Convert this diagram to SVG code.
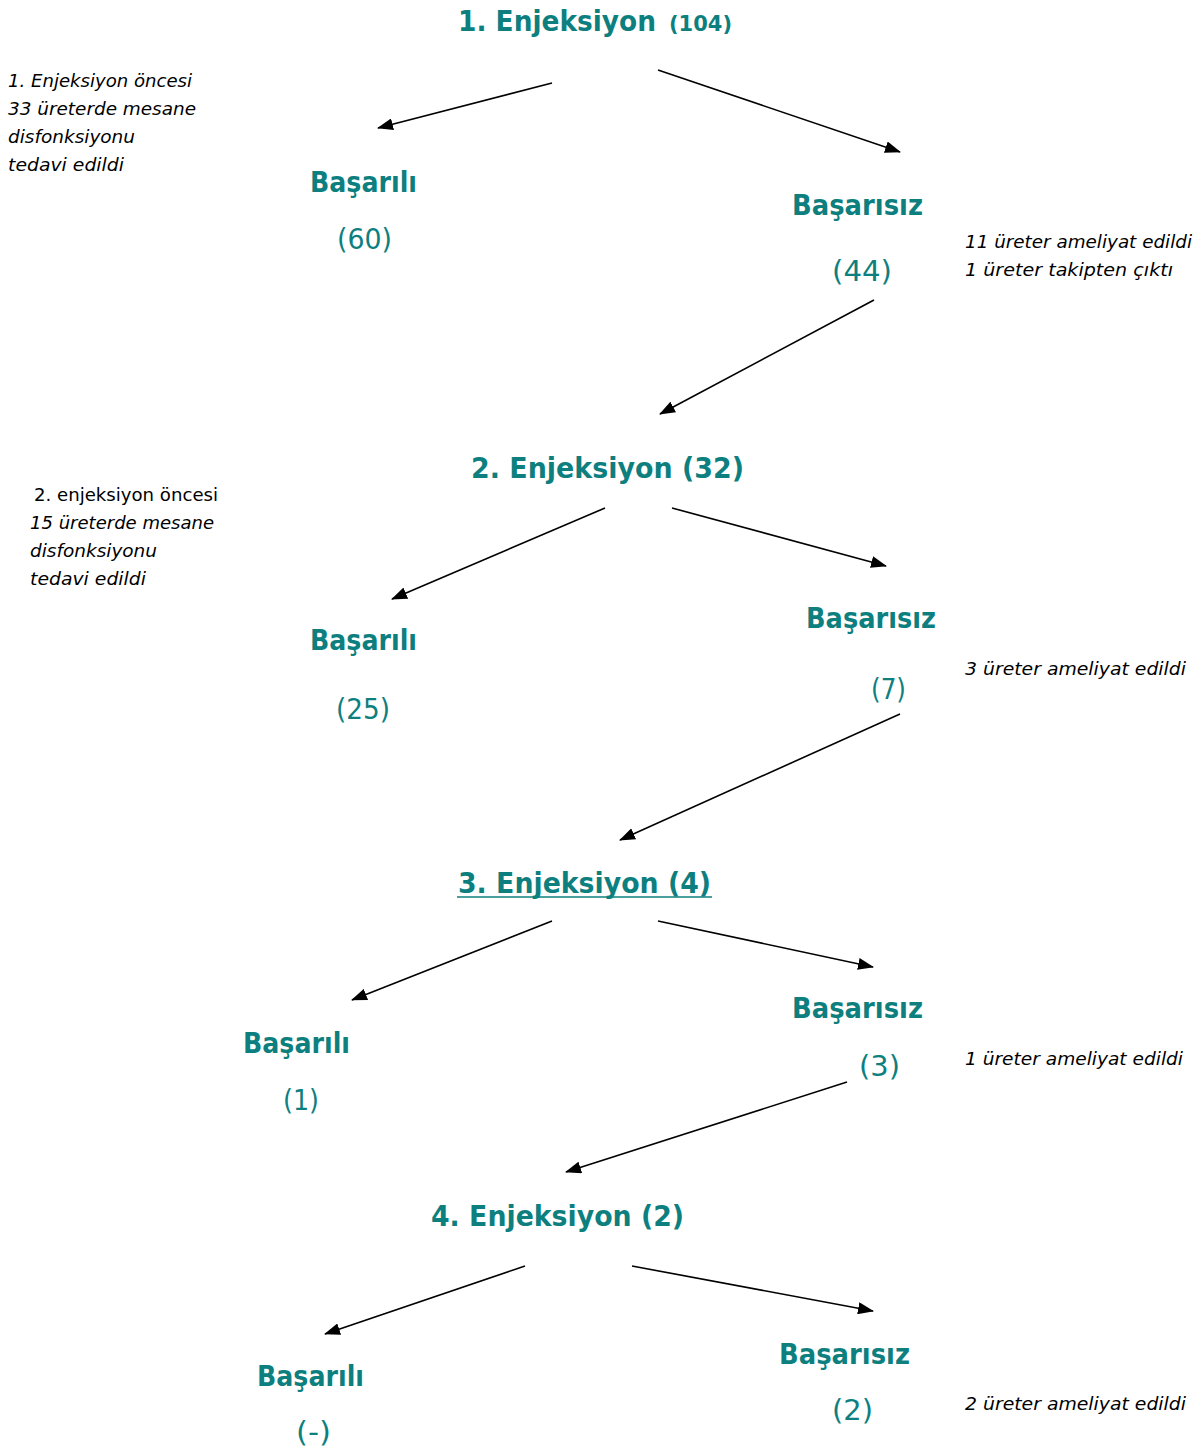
<svg xmlns="http://www.w3.org/2000/svg" width="1203" height="1454" viewBox="0 0 1203 1454">
<defs>
<marker id="ah" markerWidth="16" markerHeight="12" refX="15" refY="6" orient="auto" markerUnits="userSpaceOnUse">
<path d="M0,0 L16,6 L0,12 Z" fill="#000"/>
</marker>
<style>
.h{font-family:"DejaVu Sans","Noto Sans",sans-serif;font-weight:bold;fill:#0e7f7f;font-size:28px}
.n{font-family:"DejaVu Sans","Noto Sans",sans-serif;fill:#0e7f7f;font-size:28px}
.s{font-size:22px}
.note{font-family:"DejaVu Sans","Noto Sans",sans-serif;font-style:italic;fill:#000;font-size:18px}
.up{font-style:normal}
.c{stroke:#000;stroke-width:1.6;fill:none;marker-end:url(#ah)}
</style>
</defs>
<rect width="1203" height="1454" fill="#fff"/>
<g id="connectors">
<line class="c" x1="552" y1="83" x2="378" y2="128"/>
<line class="c" x1="658" y1="70" x2="900" y2="152"/>
<line class="c" x1="874" y1="300" x2="660" y2="414"/>
<line class="c" x1="605" y1="508" x2="392" y2="599"/>
<line class="c" x1="672" y1="508" x2="886" y2="566"/>
<line class="c" x1="900" y1="714" x2="620" y2="840"/>
<line class="c" x1="552" y1="921" x2="352" y2="1000"/>
<line class="c" x1="658" y1="921" x2="873" y2="967"/>
<line class="c" x1="847" y1="1082" x2="566" y2="1172"/>
<line class="c" x1="525" y1="1266" x2="325" y2="1334"/>
<line class="c" x1="632" y1="1266" x2="873" y2="1311"/>
</g>
<g id="inj1"><text class="h" x="458" y="31" textLength="198" lengthAdjust="spacingAndGlyphs">1. Enjeksiyon</text><text class="h s" x="669" y="31" textLength="63" lengthAdjust="spacingAndGlyphs">(104)</text></g>
<g id="note1">
<text class="note" x="8" y="87" textLength="184" lengthAdjust="spacingAndGlyphs">1. Enjeksiyon öncesi</text>
<text class="note" x="8" y="115" textLength="188" lengthAdjust="spacingAndGlyphs">33 üreterde mesane</text>
<text class="note" x="8" y="143" textLength="127" lengthAdjust="spacingAndGlyphs">disfonksiyonu</text>
<text class="note" x="8" y="171" textLength="116" lengthAdjust="spacingAndGlyphs">tedavi edildi</text>
</g>
<g id="b1"><text class="h" x="310" y="192" textLength="107" lengthAdjust="spacingAndGlyphs">Başarılı</text><text class="n" x="337" y="249" textLength="55" lengthAdjust="spacingAndGlyphs">(60)</text></g>
<g id="f1"><text class="h" x="792" y="215" textLength="131" lengthAdjust="spacingAndGlyphs">Başarısız</text><text class="n" x="832" y="281" textLength="60" lengthAdjust="spacingAndGlyphs">(44)</text></g>
<g id="note1r">
<text class="note" x="965" y="248" textLength="227" lengthAdjust="spacingAndGlyphs">11 üreter ameliyat edildi</text>
<text class="note" x="965" y="276" textLength="208" lengthAdjust="spacingAndGlyphs">1 üreter takipten çıktı</text>
</g>
<g id="inj2"><text class="h" x="471" y="478" textLength="273" lengthAdjust="spacingAndGlyphs">2. Enjeksiyon (32)</text></g>
<g id="note2">
<text class="note up" x="34" y="501" textLength="184" lengthAdjust="spacingAndGlyphs">2. enjeksiyon öncesi</text>
<text class="note" x="30" y="529" textLength="184" lengthAdjust="spacingAndGlyphs">15 üreterde mesane</text>
<text class="note" x="30" y="557" textLength="127" lengthAdjust="spacingAndGlyphs">disfonksiyonu</text>
<text class="note" x="30" y="585" textLength="116" lengthAdjust="spacingAndGlyphs">tedavi edildi</text>
</g>
<g id="b2"><text class="h" x="310" y="650" textLength="107" lengthAdjust="spacingAndGlyphs">Başarılı</text><text class="n" x="336" y="719" textLength="54" lengthAdjust="spacingAndGlyphs">(25)</text></g>
<g id="f2"><text class="h" x="806" y="628" textLength="130" lengthAdjust="spacingAndGlyphs">Başarısız</text><text class="n" x="871" y="699" textLength="35" lengthAdjust="spacingAndGlyphs">(7)</text></g>
<g id="note2r"><text class="note" x="965" y="675" textLength="221" lengthAdjust="spacingAndGlyphs">3 üreter ameliyat edildi</text></g>
<g id="inj3"><text class="h" x="458" y="893" textLength="253" lengthAdjust="spacingAndGlyphs">3. Enjeksiyon (4)</text><line x1="457" y1="897" x2="712" y2="897" stroke="#0e7f7f" stroke-width="1.5"/></g>
<g id="b3"><text class="h" x="243" y="1053" textLength="107" lengthAdjust="spacingAndGlyphs">Başarılı</text><text class="n" x="283" y="1110" textLength="36" lengthAdjust="spacingAndGlyphs">(1)</text></g>
<g id="f3"><text class="h" x="792" y="1018" textLength="131" lengthAdjust="spacingAndGlyphs">Başarısız</text><text class="n" x="859" y="1076" textLength="41" lengthAdjust="spacingAndGlyphs">(3)</text></g>
<g id="note3r"><text class="note" x="965" y="1065" textLength="218" lengthAdjust="spacingAndGlyphs">1 üreter ameliyat edildi</text></g>
<g id="inj4"><text class="h" x="431" y="1226" textLength="253" lengthAdjust="spacingAndGlyphs">4. Enjeksiyon (2)</text></g>
<g id="b4"><text class="h" x="257" y="1386" textLength="107" lengthAdjust="spacingAndGlyphs">Başarılı</text><text class="n" x="296" y="1442" textLength="35" lengthAdjust="spacingAndGlyphs">(-)</text></g>
<g id="f4"><text class="h" x="779" y="1364" textLength="131" lengthAdjust="spacingAndGlyphs">Başarısız</text><text class="n" x="832" y="1420" textLength="41" lengthAdjust="spacingAndGlyphs">(2)</text></g>
<g id="note4r"><text class="note" x="965" y="1410" textLength="221" lengthAdjust="spacingAndGlyphs">2 üreter ameliyat edildi</text></g>
</svg>
